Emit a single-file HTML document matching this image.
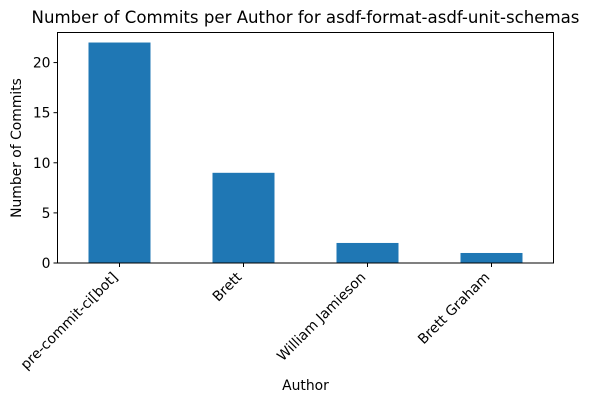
<!DOCTYPE html>
<html><head><meta charset="utf-8"><style>body{margin:0;background:#fff}svg{display:block;font-family:"DejaVu Sans","Liberation Sans",sans-serif}</style></head>
<body>
<svg id="chart" width="589" height="404" viewBox="0 0 589 404" xmlns="http://www.w3.org/2000/svg">
<text x="305.5" y="23" font-size="16.6" text-anchor="middle" fill="#000">Number of Commits per Author for asdf-format-asdf-unit-schemas</text>
<text transform="translate(21,148) rotate(-90)" font-size="13.9" text-anchor="middle">Number of Commits</text>
<text x="305.5" y="390" font-size="13.9" text-anchor="middle">Author</text>
<g id="bars"></g><g id="axes"></g>
</svg>
<script>
const categories=["pre-commit-ci[bot]","Brett","William Jamieson","Brett Graham"];
const values=[22,9,2,1];
const yTicks=[0,5,10,15,20];
const L=57.5,R=553.5,T=32.5,B=263,yMax=23;
const ns="http://www.w3.org/2000/svg";
const band=(R-L)/categories.length;
const x=i=>L+band*(i+0.5);
const y=v=>B-(v/yMax)*(B-T);
function mk(t,a,p){const e=document.createElementNS(ns,t);for(const k in a)e.setAttribute(k,a[k]);p.appendChild(e);return e;}
const bars=document.getElementById('bars'),axes=document.getElementById('axes');
values.forEach((v,i)=>{const r=mk('rect',{x:x(i)-31,y:y(v),width:62,height:B-y(v),fill:'#1f77b4'},bars);

});
const f=mk('rect',{x:L,y:T,width:R-L,height:B-T,fill:'none',stroke:'#000','stroke-width':1},axes);


yTicks.forEach(t=>{mk('line',{x1:L-4,x2:L,y1:y(t),y2:y(t),stroke:'#000'},axes);
const tx=mk('text',{x:L-7,y:y(t)+5,'font-size':13.9,'text-anchor':'end'},axes);tx.textContent=t;

});
categories.forEach((c,i)=>{mk('line',{x1:x(i),x2:x(i),y1:B,y2:B+4,stroke:'#000'},axes);
const tx=mk('text',{transform:`translate(${x(i)-1},${B+15}) rotate(-45)`,'font-size':13.9,'text-anchor':'end'},axes);tx.textContent=c;

});
</script>
</body></html>
